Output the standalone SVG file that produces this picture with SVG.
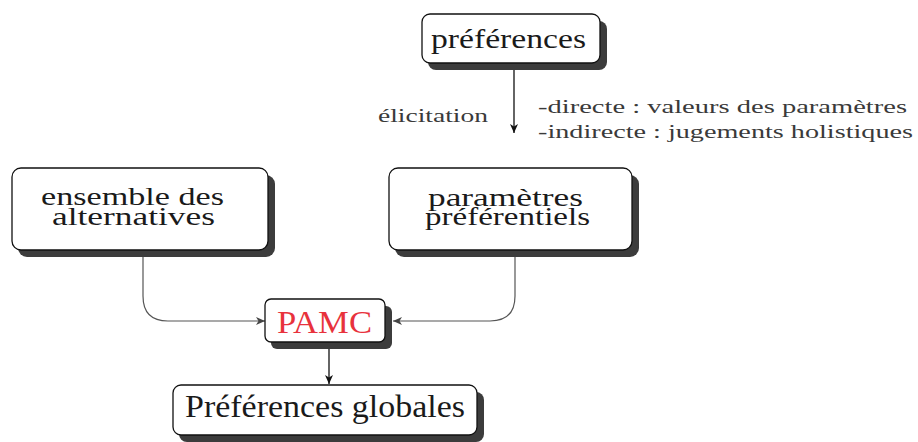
<svg xmlns="http://www.w3.org/2000/svg" width="918" height="442" viewBox="0 0 918 442">
<style>
.shadow{fill:#3c3c3c;}
.box{fill:#fff;stroke:#111;stroke-width:1.3;}
.nodelabel{font-family:'Liberation Serif',serif;fill:#1a1a1a;}
.annot{font-family:'Liberation Serif',serif;fill:#3a3a3a;font-size:19px;}
.conn{fill:none;stroke:#555;stroke-width:1.2;}
.arr{fill:none;stroke:#111;stroke-width:1.3;}
</style>
<defs>
<marker id="ah" markerWidth="10" markerHeight="8" refX="9" refY="4" orient="auto" markerUnits="userSpaceOnUse">
<path d="M0,0 L9,4 L0,8 L2.5,4 Z" fill="#111"/>
</marker>
<marker id="ahg" markerWidth="10" markerHeight="8" refX="9" refY="4" orient="auto" markerUnits="userSpaceOnUse">
<path d="M0,0 L9,4 L0,8 L2.5,4 Z" fill="#444"/>
</marker>
</defs>
<rect width="918" height="442" fill="#fff"/>

<g id="connectors">
<path class="arr" d="M514,70 L514,133" marker-end="url(#ah)"/>
<path class="conn" d="M143,257 L143,296 Q143,321 168,321 L265,321" marker-end="url(#ahg)"/>
<path class="conn" d="M515,257 L515,296 Q515,321 490,321 L393,321" marker-end="url(#ahg)"/>
<path class="arr" d="M329,349 L329,384" marker-end="url(#ah)"/>
</g>

<g id="preferences">
<rect class="shadow" x="428" y="21" width="179" height="49" rx="8"/>
<rect class="box" x="422" y="14" width="178" height="49" rx="8"/>
<text x="431" y="48" font-family="Liberation Serif, serif" font-size="27" fill="#1a1a1a" textLength="155" lengthAdjust="spacingAndGlyphs">préférences</text>
</g>

<g id="elicitation">
<text x="378" y="122" font-family="Liberation Serif, serif" font-size="19" fill="#3a3a3a" textLength="110" lengthAdjust="spacingAndGlyphs">élicitation</text>
<text x="538" y="113" font-family="Liberation Serif, serif" font-size="19" fill="#3a3a3a" textLength="369" lengthAdjust="spacingAndGlyphs">-directe : valeurs des paramètres</text>
<text x="538" y="138" font-family="Liberation Serif, serif" font-size="19" fill="#3a3a3a" textLength="375" lengthAdjust="spacingAndGlyphs">-indirecte : jugements holistiques</text>
</g>

<g id="ensemble">
<rect class="shadow" x="18" y="175" width="257" height="82" rx="9"/>
<rect class="box" x="12" y="168" width="256" height="82" rx="9"/>
<text x="41" y="205" font-family="Liberation Serif, serif" font-size="26" fill="#1a1a1a" textLength="183" lengthAdjust="spacingAndGlyphs">ensemble des</text>
<text x="52" y="225" font-family="Liberation Serif, serif" font-size="26" fill="#1a1a1a" textLength="163" lengthAdjust="spacingAndGlyphs">alternatives</text>
</g>

<g id="parametres">
<rect class="shadow" x="395" y="175" width="244" height="82" rx="9"/>
<rect class="box" x="389" y="168" width="243" height="82" rx="9"/>
<text x="428" y="206" font-family="Liberation Serif, serif" font-size="26" fill="#1a1a1a" textLength="155" lengthAdjust="spacingAndGlyphs">paramètres</text>
<text x="425" y="225" font-family="Liberation Serif, serif" font-size="26" fill="#1a1a1a" textLength="165" lengthAdjust="spacingAndGlyphs">préférentiels</text>
</g>

<g id="pamc">
<rect class="shadow" x="271" y="306" width="121" height="43" rx="6"/>
<rect class="box" x="265" y="299" width="120" height="43" rx="6"/>
<text x="277" y="333" font-family="Liberation Serif, serif" font-size="32" fill="#e8323c" textLength="95" lengthAdjust="spacingAndGlyphs">PAMC</text>
</g>

<g id="globales">
<rect class="shadow" x="179" y="392" width="305" height="50" rx="8"/>
<rect class="box" x="173" y="385" width="304" height="50" rx="8"/>
<text x="185" y="417" font-family="Liberation Serif, serif" font-size="32" fill="#1a1a1a" textLength="280" lengthAdjust="spacingAndGlyphs">Préférences globales</text>
</g>
</svg>
